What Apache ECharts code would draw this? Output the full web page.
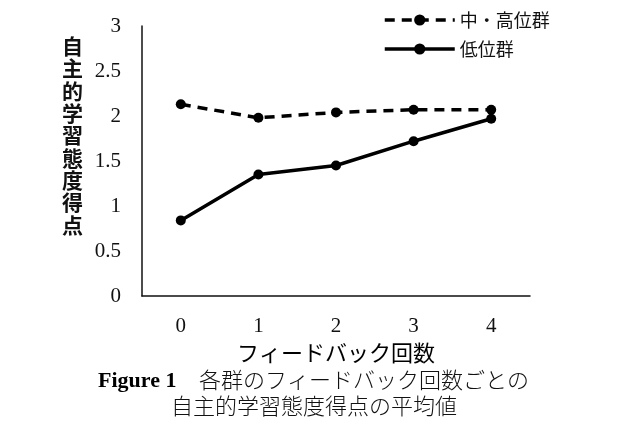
<!DOCTYPE html>
<html>
<head>
<meta charset="utf-8">
<script src="https://cdn.jsdelivr.net/npm/echarts@6/dist/echarts.min.js"></script>
<style>
  html, body { margin: 0; padding: 0; background: #fff; }
  #chart { width: 620px; height: 428px; }
</style>
</head>
<body>
<div id="chart"></div>
<script>
// フィードバック回数
var categories = ['0', '1', '2', '3', '4'];
// 各群の平均値
var highGroup = [2.13, 1.98, 2.04, 2.07, 2.07];
var lowGroup = [0.84, 1.35, 1.45, 1.72, 1.97];
var yTicks = [0, 0.5, 1, 1.5, 2, 2.5, 3];

var serif = '"Liberation Serif", "DejaVu Serif", serif';
var cjk = '"Noto Sans CJK JP", "Noto Sans", sans-serif';

var chart = echarts.init(document.getElementById('chart'));

var yName = '自主的学習態度得点'.split('').join('\n');

option = {
    animation: false,
    grid: {
        left: 142,
        top: 26,
        width: 388,
        height: 270
    },
    legend: {
        orient: 'vertical',
        left: 378,
        top: 6,
        itemWidth: 70,
        itemHeight: 14,
        itemGap: 11,
        lineStyle: { width: 3.5 },
        textStyle: {
            fontFamily: cjk,
            fontSize: 18,
            color: '#111'
        },
        data: ['中・高位群', '低位群']
    },
    xAxis: {
        type: 'category',
        data: categories,
        boundaryGap: true,
        name: 'フィードバック回数',
        nameLocation: 'middle',
        nameGap: 42,
        nameTextStyle: {
            fontFamily: cjk,
            fontSize: 22,
            fontWeight: 'normal',
            color: '#000'
        },
        axisLine: { lineStyle: { color: '#111', width: 1.5 } },
        axisTick: { show: false },
        axisLabel: {
            margin: 20,
            fontFamily: serif,
            fontSize: 21,
            color: '#111'
        }
    },
    yAxis: {
        type: 'value',
        min: 0,
        max: 3,
        interval: 0.5,
        axisLine: { show: true, lineStyle: { color: '#111', width: 1.5 } },
        axisTick: { show: false },
        splitLine: { show: false },
        axisLabel: {
            margin: 21,
            fontFamily: serif,
            fontSize: 21,
            color: '#111',
            formatter: function (v) {
                return yTicks.indexOf(v) >= 0 ? String(v) : '';
            }
        }
    },
    graphic: [
        {
            type: 'text',
            left: 62,
            top: 35,
            style: {
                text: yName,
                fontFamily: cjk,
                fontSize: 21,
                fontWeight: 'bold',
                lineHeight: 22.3,
                fill: '#111'
            }
        },
        {
            type: 'text',
            left: 98,
            top: 370,
            style: {
                text: 'Figure 1',
                fontFamily: serif,
                fontSize: 22,
                fontWeight: 'bold',
                fill: '#000'
            }
        },
        {
            type: 'text',
            left: 199,
            top: 369,
            style: {
                text: '各群のフィードバック回数ごとの',
                fontFamily: cjk,
                fontSize: 22,
                fontWeight: 300,
                fill: '#111'
            }
        },
        {
            type: 'text',
            left: 171,
            top: 395,
            style: {
                text: '自主的学習態度得点の平均値',
                fontFamily: cjk,
                fontSize: 22,
                fontWeight: 300,
                fill: '#111'
            }
        }
    ],
    series: [{
        name: '中・高位群',
        type: 'line',
        data: highGroup,
        symbol: 'circle',
        symbolSize: 10,
        itemStyle: { color: '#000' },
        lineStyle: { color: '#000', width: 3.5, type: [10, 7] }
    }, {
        name: '低位群',
        type: 'line',
        data: lowGroup,
        symbol: 'circle',
        symbolSize: 10,
        itemStyle: { color: '#000' },
        lineStyle: { color: '#000', width: 3.5, type: 'solid' }
    }]
};

chart.setOption(option);
</script>
</body>
</html>
